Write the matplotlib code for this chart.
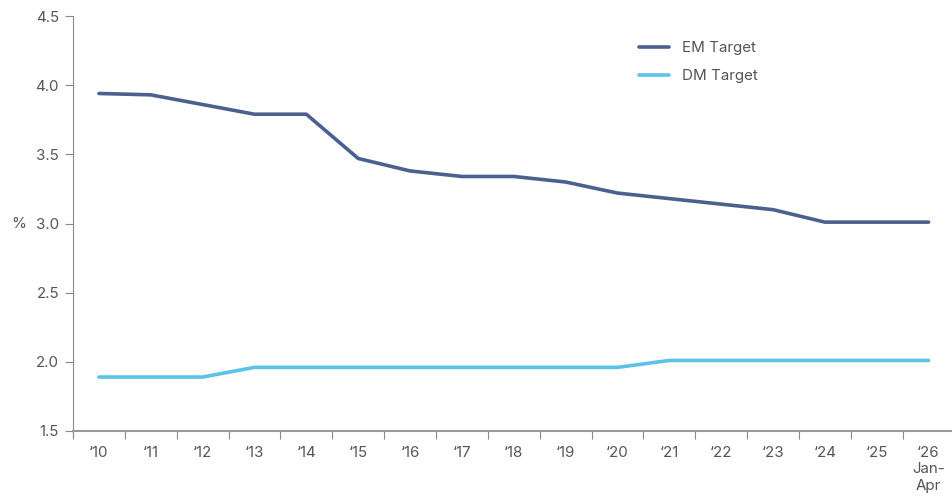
import matplotlib
matplotlib.use("Agg")
import matplotlib.pyplot as plt
from matplotlib.lines import Line2D

plt.rcParams['font.family'] = ['Inter', 'DejaVu Sans']

years = ['\u201810', '\u201811', '\u201812', '\u201813', '\u201814', '\u201815', '\u201816',
         '\u201817', '\u201818', '\u201819', '\u201820', '\u201821', '\u201822', '\u201823',
         '\u201824', '\u201825', '\u201826\nJan-\nApr']
em_target = [3.94, 3.93, 3.86, 3.79, 3.79, 3.47, 3.38, 3.34, 3.34, 3.30, 3.22, 3.18,
             3.14, 3.10, 3.01, 3.01, 3.01]
dm_target = [1.89, 1.89, 1.89, 1.96, 1.96, 1.96, 1.96, 1.96, 1.96, 1.96, 1.96, 2.01,
             2.01, 2.01, 2.01, 2.01, 2.01]
yticks = [1.5, 2.0, 2.5, 3.0, 3.5, 4.0, 4.5]

EM_COLOR = '#4A6190'
DM_COLOR = '#5BC3E8'
TEXT = '#555555'
AXIS = '#888888'
FS = 10.9

W, H = 952, 503
fig = plt.figure(figsize=(W / 100, H / 100), dpi=100)
ax = fig.add_axes([73 / W, (H - 431) / H, 881.5 / W, 415 / H])

x = list(range(len(years)))
ax.plot(x, em_target, color=EM_COLOR, lw=2.6, label='EM Target', solid_capstyle='round')
ax.plot(x, dm_target, color=DM_COLOR, lw=2.6, label='DM Target', solid_capstyle='round')

ax.set_xlim(-0.5, len(years) - 0.5)
ax.set_ylim(1.5, 4.5)
ax.set_yticks(yticks)
ax.set_yticklabels([f'{v:.1f}' for v in yticks])

ax.set_xticks(x)
ax.set_xticklabels(years, va='top', linespacing=1.2)
ax.set_xticks([i - 0.5 for i in range(len(years))], minor=True)
ax.tick_params(axis='x', which='major', length=0, pad=11, labelsize=FS, labelcolor=TEXT)
ax.tick_params(axis='x', which='minor', length=6, width=0.8, color=AXIS, direction='out')
ax.tick_params(axis='y', length=6, width=0.8, color=AXIS, pad=4, labelsize=FS, labelcolor=TEXT)

for s in ['top', 'right']:
    ax.spines[s].set_visible(False)
ax.spines['bottom'].set_color('#999999')
ax.spines['bottom'].set_linewidth(1.5)
ax.spines['left'].set_visible(False)
ax.add_line(Line2D([0, 0], [-0.015, 1], transform=ax.transAxes, color=AXIS, lw=0.8, clip_on=False))

ax.set_ylabel('%', rotation=0, color=TEXT, fontsize=FS, va='center')
ax.yaxis.set_label_coords(-0.062, 0.5)

leg = ax.legend(loc='upper left', bbox_to_anchor=((633 - 73) / 881.5, (431 - 35) / 415),
                frameon=False, fontsize=FS, handlelength=2.0, handletextpad=0.85,
                labelspacing=0.95, borderaxespad=0)
for t in leg.get_texts():
    t.set_color(TEXT)

fig.savefig('out.png', dpi=100)
